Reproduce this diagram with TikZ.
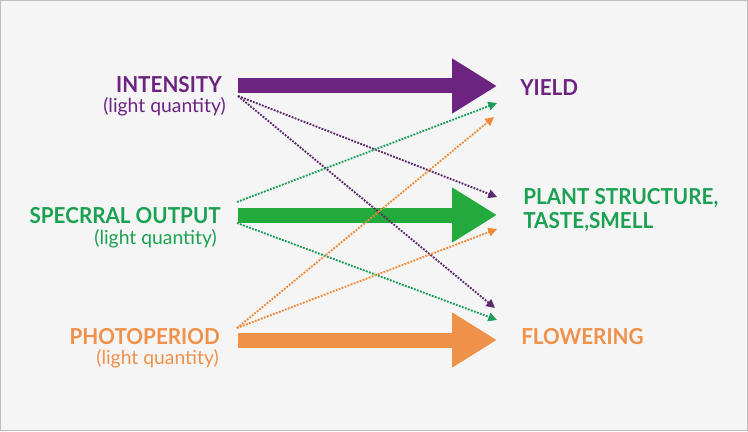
\documentclass[tikz,border=0pt]{standalone}
\usepackage{fontspec}
\setmainfont{Lato}
\newfontfamily\headfont[FakeStretch=0.94]{Lato}
\usetikzlibrary{positioning,arrows.meta}

\definecolor{bgcol}{HTML}{F5F5F5}
\definecolor{framecol}{HTML}{BDBDBD}
\definecolor{purp}{HTML}{6C2480}
\definecolor{purpdot}{HTML}{5A2A6C}
\definecolor{grarrow}{HTML}{22AA3C}
\definecolor{grtext}{HTML}{1BA152}
\definecolor{grdot}{HTML}{1E9E5C}
\definecolor{orng}{HTML}{F0914A}
\definecolor{orngdot}{HTML}{F08A3A}

\begin{document}
\begin{tikzpicture}[x=0.75pt,y=-0.75pt,
  head/.style={font=\headfont\fontsize{16.5}{18}\selectfont\bfseries, inner sep=0pt},
  sub/.style={font=\fontsize{14.5}{16}\selectfont, inner sep=0pt},
  bigarrow/.style={line width=11.25pt, -{Triangle[length=33.75pt,width=39pt]}},
  link/.style={densely dotted, line width=1.4pt, -{Triangle[length=6.5pt,width=6.5pt]}}]
  \useasboundingbox (0,0) rectangle (748,431);
  \fill[bgcol] (0,0) rectangle (748,431);
  \draw[framecol, line width=0.75pt] (0.5,0.5) rectangle (747.5,430.5);

  % left labels
  \node[head, purp, anchor=base east] (intensity) at (222,93) {INTENSITY};
  \node[sub, purp, anchor=base] (intensity-sub) at (164.5,113) {(light quantity)};
  \node[head, grtext, anchor=base east] (spectral) at (221,223) {SPECRRAL OUTPUT};
  \node[sub, grtext, anchor=base east] (spectral-sub) at (217,244) {(light quantity)};
  \node[head, orng, anchor=base east] (photo) at (220,344) {PHOTOPERIOD};
  \node[sub, orng, anchor=base east] (photo-sub) at (219,364) {(light quantity)};

  % right labels
  \node[head, purp, anchor=base west] (yield) at (520,96) {YIELD};
  \node[head, grtext, anchor=west, align=left] (plant) at (523,210) {PLANT STRUCTURE,\\TASTE,SMELL};
  \node[head, orng, anchor=base west] (flower) at (521,344) {FLOWERING};

  \coordinate (int-s) at (238,86);   \coordinate (int-e) at (497,86);
  \coordinate (spec-s) at (238,215); \coordinate (spec-e) at (497,215);
  \coordinate (pho-s) at (238,340);  \coordinate (pho-e) at (497,340);

  \draw[bigarrow, purp] (int-s) -- (int-e);
  \draw[bigarrow, grarrow] (spec-s) -- (spec-e);
  \draw[bigarrow, orng] (pho-s) -- (pho-e);

  \coordinate (int-d) at (238,96);
  \coordinate (spec-up) at (237,202);
  \coordinate (spec-dn) at (237,223);
  \coordinate (pho-d) at (237,328);
  \coordinate (yield-g) at (497,103);
  \coordinate (yield-o) at (494,117);
  \coordinate (plant-p) at (497,197);
  \coordinate (plant-o) at (497,229);
  \coordinate (flower-p) at (495,308);
  \coordinate (flower-g) at (497,320);

  \draw[link, purpdot] (int-d) -- (plant-p);
  \draw[link, purpdot] (int-d) -- (flower-p);
  \draw[link, grdot] (spec-up) -- (yield-g);
  \draw[link, grdot] (spec-dn) -- (flower-g);
  \draw[link, orngdot] (pho-d) -- (yield-o);
  \draw[link, orngdot] (pho-d) -- (plant-o);
\end{tikzpicture}
\end{document}
